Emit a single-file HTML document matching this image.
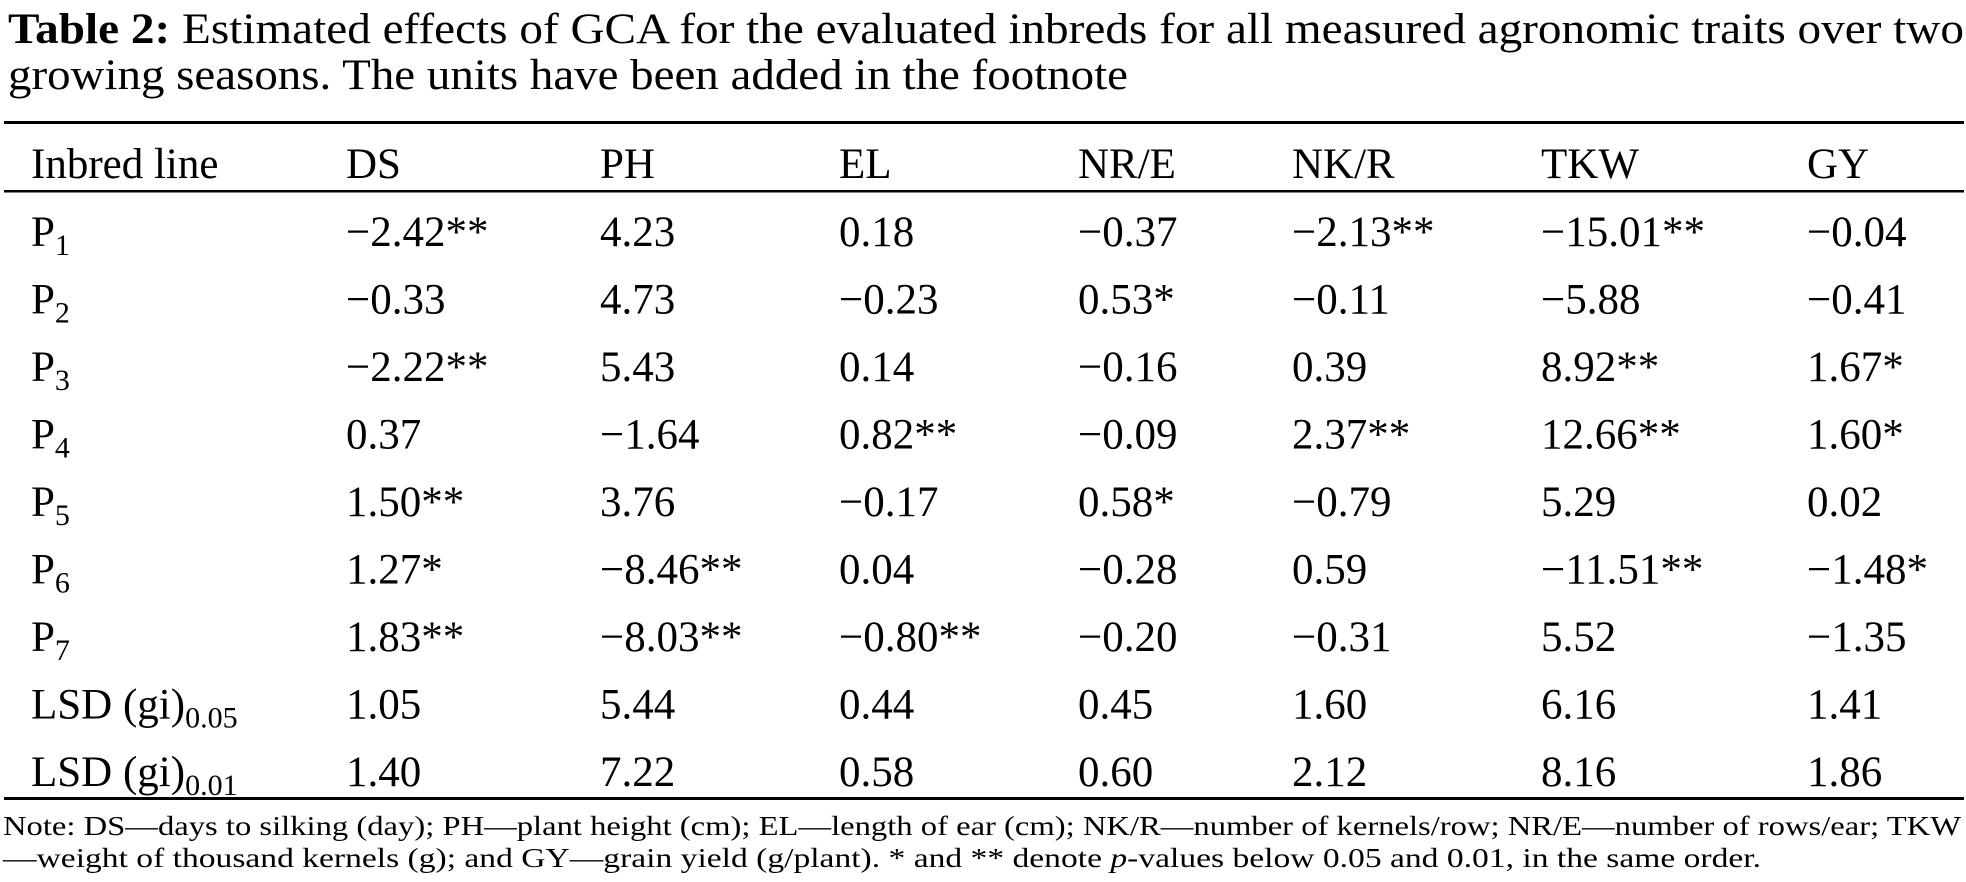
<!DOCTYPE html>
<html><head><meta charset="utf-8"><style>
html,body{margin:0;padding:0;background:#fff;}
svg{display:block;}
text{font-family:"Liberation Serif","DejaVu Serif",serif;fill:#000;}
.b{font-size:43px;}
.s{font-size:30px;}
</style></head><body>
<svg width="1966" height="882" viewBox="0 0 1966 882" xmlns="http://www.w3.org/2000/svg">
<text x="8" y="43" font-size="43" textLength="1956" lengthAdjust="spacingAndGlyphs"><tspan font-weight="bold">Table 2:</tspan>  Estimated effects of GCA for the evaluated inbreds for all measured agronomic traits over two</text>
<text x="8" y="89" font-size="43" textLength="1120" lengthAdjust="spacingAndGlyphs">growing seasons. The units have been added in the footnote</text>
<rect x="4" y="121" width="1960" height="3"/>
<g class="b">
<text x="31" y="178">Inbred line</text>
<text x="346" y="178">DS</text>
<text x="600" y="178">PH</text>
<text x="839" y="178">EL</text>
<text x="1078" y="178">NR/E</text>
<text x="1292" y="178">NK/R</text>
<text x="1541" y="178">TKW</text>
<text x="1807" y="178">GY</text>
</g>
<rect x="4" y="190" width="1960" height="2.5"/>
<g class="b" transform="translate(0,3)">
<text x="31" y="243">P<tspan class="s" dy="9">1</tspan></text>
<text x="31" y="310.5">P<tspan class="s" dy="9">2</tspan></text>
<text x="31" y="378">P<tspan class="s" dy="9">3</tspan></text>
<text x="31" y="445.5">P<tspan class="s" dy="9">4</tspan></text>
<text x="31" y="513">P<tspan class="s" dy="9">5</tspan></text>
<text x="31" y="580.5">P<tspan class="s" dy="9">6</tspan></text>
<text x="31" y="648">P<tspan class="s" dy="9">7</tspan></text>
<text x="31" y="715.5">LSD (gi)<tspan class="s" dy="9">0.05</tspan></text>
<text x="31" y="783">LSD (gi)<tspan class="s" dy="9">0.01</tspan></text>

<text x="346" y="243">−2.42**</text><text x="600" y="243">4.23</text><text x="839" y="243">0.18</text><text x="1078" y="243">−0.37</text><text x="1292" y="243">−2.13**</text><text x="1541" y="243">−15.01**</text><text x="1807" y="243">−0.04</text>
<text x="346" y="310.5">−0.33</text><text x="600" y="310.5">4.73</text><text x="839" y="310.5">−0.23</text><text x="1078" y="310.5">0.53*</text><text x="1292" y="310.5">−0.11</text><text x="1541" y="310.5">−5.88</text><text x="1807" y="310.5">−0.41</text>
<text x="346" y="378">−2.22**</text><text x="600" y="378">5.43</text><text x="839" y="378">0.14</text><text x="1078" y="378">−0.16</text><text x="1292" y="378">0.39</text><text x="1541" y="378">8.92**</text><text x="1807" y="378">1.67*</text>
<text x="346" y="445.5">0.37</text><text x="600" y="445.5">−1.64</text><text x="839" y="445.5">0.82**</text><text x="1078" y="445.5">−0.09</text><text x="1292" y="445.5">2.37**</text><text x="1541" y="445.5">12.66**</text><text x="1807" y="445.5">1.60*</text>
<text x="346" y="513">1.50**</text><text x="600" y="513">3.76</text><text x="839" y="513">−0.17</text><text x="1078" y="513">0.58*</text><text x="1292" y="513">−0.79</text><text x="1541" y="513">5.29</text><text x="1807" y="513">0.02</text>
<text x="346" y="580.5">1.27*</text><text x="600" y="580.5">−8.46**</text><text x="839" y="580.5">0.04</text><text x="1078" y="580.5">−0.28</text><text x="1292" y="580.5">0.59</text><text x="1541" y="580.5">−11.51**</text><text x="1807" y="580.5">−1.48*</text>
<text x="346" y="648">1.83**</text><text x="600" y="648">−8.03**</text><text x="839" y="648">−0.80**</text><text x="1078" y="648">−0.20</text><text x="1292" y="648">−0.31</text><text x="1541" y="648">5.52</text><text x="1807" y="648">−1.35</text>
<text x="346" y="715.5">1.05</text><text x="600" y="715.5">5.44</text><text x="839" y="715.5">0.44</text><text x="1078" y="715.5">0.45</text><text x="1292" y="715.5">1.60</text><text x="1541" y="715.5">6.16</text><text x="1807" y="715.5">1.41</text>
<text x="346" y="783">1.40</text><text x="600" y="783">7.22</text><text x="839" y="783">0.58</text><text x="1078" y="783">0.60</text><text x="1292" y="783">2.12</text><text x="1541" y="783">8.16</text><text x="1807" y="783">1.86</text>
</g>
<rect x="4" y="797" width="1960" height="3"/>
<text x="3" y="835" font-size="27" textLength="1958" lengthAdjust="spacingAndGlyphs">Note: DS—days to silking (day); PH—plant height (cm); EL—length of ear (cm); NK/R—number of kernels/row; NR/E—number of rows/ear; TKW</text>
<text x="3" y="867" font-size="27" textLength="1758" lengthAdjust="spacingAndGlyphs">—weight of thousand kernels (g); and GY—grain yield (g/plant). * and ** denote <tspan font-style="italic">p</tspan>-values below 0.05 and 0.01, in the same order.</text>
</svg>
</body></html>
